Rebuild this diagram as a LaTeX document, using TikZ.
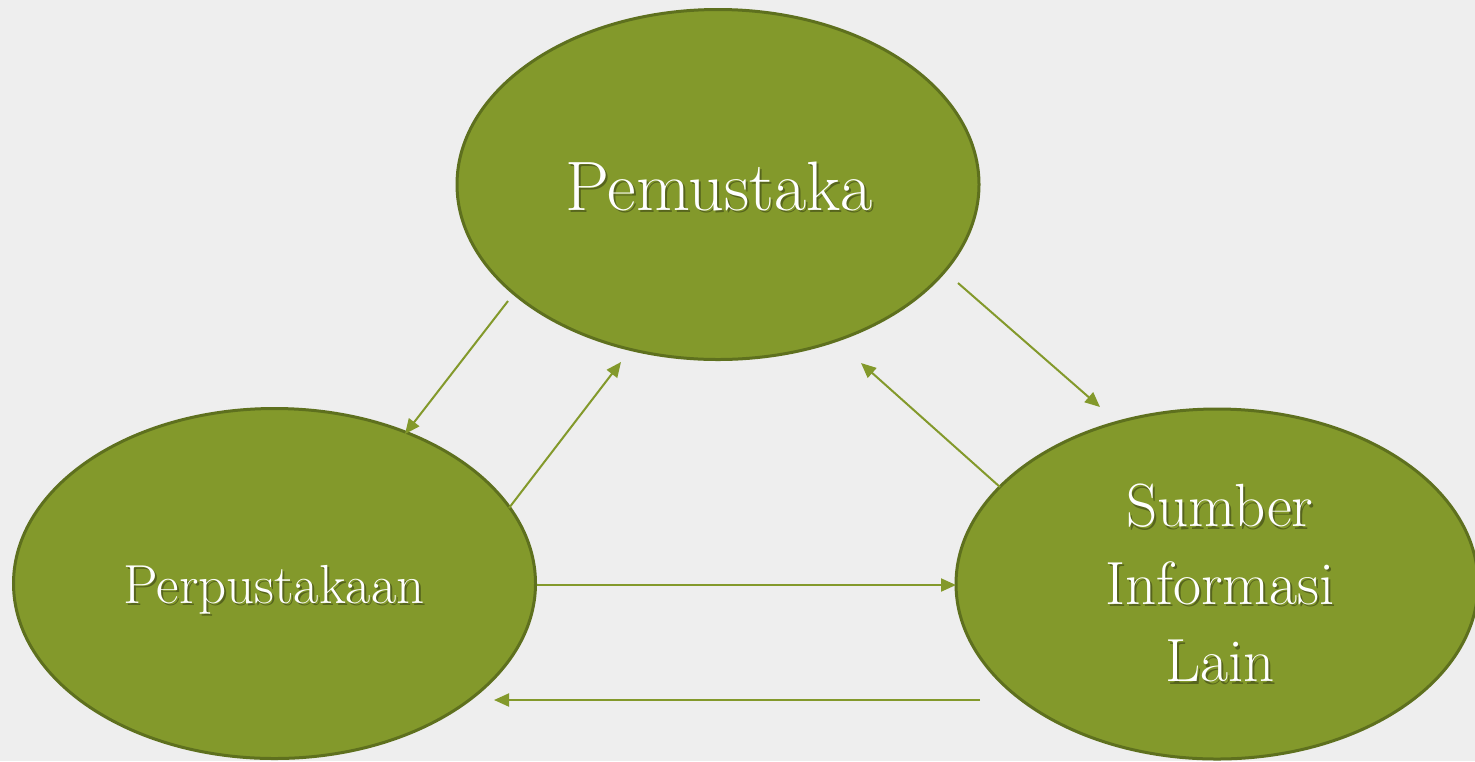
\documentclass[tikz,border=0pt]{standalone}
\usetikzlibrary{shapes.geometric,arrows.meta,calc}
\definecolor{bgc}{HTML}{EEEEEE}
\definecolor{ofill}{HTML}{83992B}
\definecolor{oline}{HTML}{5E701E}
\definecolor{oshadow}{HTML}{56641D}
\newcommand\shtext[1]{\leavevmode\rlap{\kern1pt\raisebox{-1.2pt}{\textcolor{oshadow}{#1}}}#1}
\begin{document}
\begin{tikzpicture}[x=0.5pt,y=-0.5pt,
  bubble/.style={ellipse, fill=ofill, draw=oline, line width=1.5pt, minimum width=261pt, minimum height=175pt, inner sep=0pt},
  lbl/.style={text=white, align=center, inner sep=0pt},
  arr/.style={draw=ofill, line width=1pt, -{Triangle[length=7.5pt,width=6.5pt]}}]
\fill[bgc] (0,0) rectangle (1475,761);
\useasboundingbox (0,0) rectangle (1475,761);
% ellipses
\node[bubble] (T) at (718,184.5) {};
\node[bubble] (L) at (274.5,583.5) {};
\node[bubble] (R) at (1217,584) {};
% labels
\node[lbl, anchor=base, font=\fontsize{35}{42}\selectfont] (Tt) at (719,210) {\shtext{Pemustaka}};
\node[lbl, anchor=base, font=\fontsize{27.5}{33}\selectfont] (Lt) at (274,603) {\shtext{Perpustakaan}};
\node[lbl, font=\fontsize{30.5}{38.75}\selectfont] (Rt) at (1220,584.5) {\shtext{Sumber}\\\shtext{Informasi}\\\shtext{Lain}};
% connector end points
\coordinate (a1s) at ($(T)+(-210,116.5)$);
\coordinate (a1e) at ($(L)+(130.5,-149.5)$);
\coordinate (a2s) at ($(L)+(234.5,-75.5)$);
\coordinate (a2e) at ($(T)+(-97,177.5)$);
\coordinate (a3s) at ($(T)+(240,98.5)$);
\coordinate (a3e) at ($(R)+(-117,-177)$);
\coordinate (a4s) at ($(R)+(-217,-97)$);
\coordinate (a4e) at ($(T)+(143,178.5)$);
\coordinate (a5s) at ($(L)+(262.5,1.5)$);
\coordinate (a5e) at ($(R)+(-261,1)$);
\coordinate (a6s) at ($(R)+(-237,116)$);
\coordinate (a6e) at ($(L)+(219.5,116.5)$);
% connectors
\draw[arr] (a1s) -- (a1e);
\draw[arr] (a2s) -- (a2e);
\draw[arr] (a3s) -- (a3e);
\draw[arr] (a4s) -- (a4e);
\draw[arr] (a5s) -- (a5e);
\draw[arr] (a6s) -- (a6e);
\end{tikzpicture}
\end{document}
